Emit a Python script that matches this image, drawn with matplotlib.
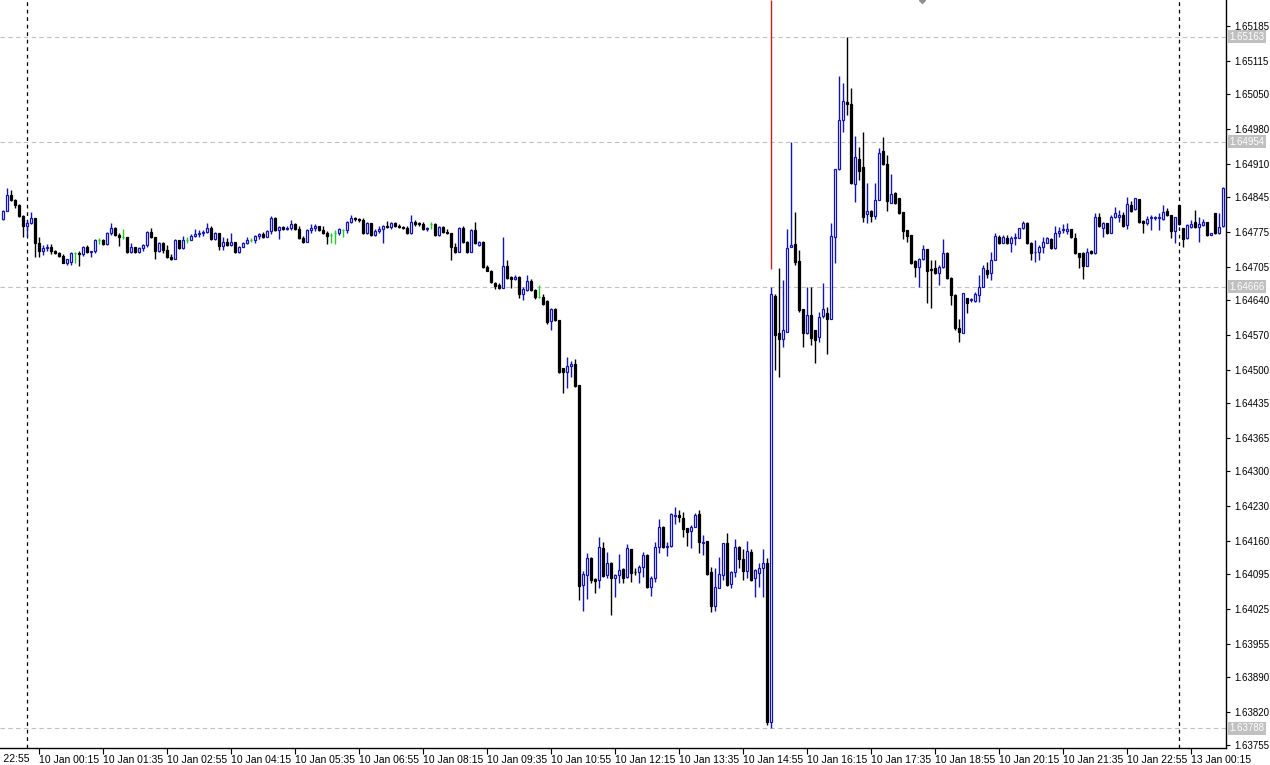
import matplotlib
matplotlib.use("Agg")
import matplotlib.pyplot as plt
import matplotlib.transforms as mtransforms

plt.rcParams['font.family'] = ['Liberation Sans', 'DejaVu Sans']

# 5 minute candles, bar 0 = 10 Jan 00:00, first bar = 9 Jan 23:30, bar 288 = 13 Jan 00:00
first_bar = -6

opens = [
    1.64801, 1.64817, 1.64848, 1.64838, 1.64828, 1.64807, 1.64787, 1.64793, 1.64803, 1.64753,
    1.64737, 1.64743, 1.64745, 1.64737, 1.64733, 1.64727, 1.64713, 1.64715, 1.64733, 1.64733,
    1.64731, 1.64745, 1.64735, 1.64737, 1.64759, 1.64759, 1.64751, 1.64773, 1.64783, 1.64769,
    1.64765, 1.64765, 1.64735, 1.64745, 1.64735, 1.64743, 1.64749, 1.64775, 1.64765, 1.64737,
    1.64753, 1.64739, 1.64725, 1.64721, 1.64759, 1.64743, 1.64759, 1.64759, 1.64767, 1.64771,
    1.64773, 1.64775, 1.64783, 1.64761, 1.64773, 1.64747, 1.64755, 1.64749, 1.64755, 1.64735,
    1.64745, 1.64753, 1.64759, 1.64759, 1.64767, 1.64771, 1.64765, 1.64777, 1.64803, 1.64779,
    1.64785, 1.64781, 1.64783, 1.64791, 1.64781, 1.64763, 1.64755, 1.64779, 1.64783, 1.64787,
    1.64779, 1.64773, 1.64769, 1.64773, 1.64773, 1.64779, 1.64779, 1.64795, 1.64803, 1.64801,
    1.64799, 1.64773, 1.64793, 1.64769, 1.64777, 1.64781, 1.64787, 1.64785, 1.64793, 1.64787,
    1.64785, 1.64783, 1.64773, 1.64795, 1.64793, 1.64791, 1.64781, 1.64791, 1.64791, 1.64769,
    1.64785, 1.64775, 1.64773, 1.64745, 1.64735, 1.64783, 1.64755, 1.64735, 1.64779, 1.64749,
    1.64755, 1.64705, 1.64697, 1.64673, 1.64669, 1.64663, 1.64707, 1.64685, 1.64681, 1.64685,
    1.64652, 1.64659, 1.64677, 1.64659, 1.64646, 1.64646, 1.64638, 1.64598, 1.64622, 1.64600,
    1.64504, 1.64496, 1.64508, 1.64512, 1.64471, 1.64073, 1.64093, 1.64127, 1.64085, 1.64083,
    1.64147, 1.64093, 1.64117, 1.64087, 1.64093, 1.64105, 1.64089, 1.64145, 1.64099, 1.64099,
    1.64109, 1.64133, 1.64069, 1.64087, 1.64149, 1.64188, 1.64149, 1.64151, 1.64210, 1.64212,
    1.64206, 1.64186, 1.64180, 1.64188, 1.64214, 1.64157, 1.64160, 1.64099, 1.64031, 1.64067,
    1.64093, 1.64157, 1.64075, 1.64099, 1.64149, 1.64125, 1.64101, 1.64139, 1.64087, 1.64097,
    1.64107, 1.64117, 1.63801, 1.64648, 1.64574, 1.64562, 1.64576, 1.64745, 1.64751, 1.64717,
    1.64622, 1.64574, 1.64610, 1.64580, 1.64566, 1.64608, 1.64614, 1.64602, 1.64765, 1.64900,
    1.64997, 1.65033, 1.65029, 1.64870, 1.64920, 1.64904, 1.64811, 1.64817, 1.64807, 1.64838,
    1.64936, 1.64910, 1.64832, 1.64852, 1.64842, 1.64815, 1.64779, 1.64769, 1.64717, 1.64705,
    1.64721, 1.64741, 1.64701, 1.64703, 1.64693, 1.64705, 1.64733, 1.64683, 1.64650, 1.64584,
    1.64574, 1.64644, 1.64640, 1.64638, 1.64650, 1.64665, 1.64699, 1.64693, 1.64719, 1.64765,
    1.64753, 1.64763, 1.64753, 1.64763, 1.64763, 1.64783, 1.64793, 1.64753, 1.64735, 1.64735,
    1.64745, 1.64753, 1.64761, 1.64743, 1.64773, 1.64779, 1.64777, 1.64781, 1.64763, 1.64733,
    1.64733, 1.64707, 1.64737, 1.64733, 1.64805, 1.64783, 1.64793, 1.64773, 1.64805, 1.64805,
    1.64809, 1.64789, 1.64828, 1.64821, 1.64840, 1.64797, 1.64793, 1.64803, 1.64803, 1.64803,
    1.64801, 1.64817, 1.64809, 1.64777, 1.64828, 1.64783, 1.64763, 1.64785, 1.64795, 1.64785,
    1.64789, 1.64795, 1.64769, 1.64813, 1.64773, 1.64787,
]

highs = [
    1.64819, 1.64862, 1.64858, 1.64840, 1.64830, 1.64809, 1.64799, 1.64815, 1.64803, 1.64765,
    1.64749, 1.64751, 1.64751, 1.64739, 1.64735, 1.64731, 1.64721, 1.64735, 1.64735, 1.64737,
    1.64747, 1.64749, 1.64737, 1.64761, 1.64763, 1.64761, 1.64775, 1.64793, 1.64785, 1.64773,
    1.64781, 1.64765, 1.64753, 1.64745, 1.64745, 1.64751, 1.64777, 1.64783, 1.64765, 1.64755,
    1.64755, 1.64749, 1.64731, 1.64761, 1.64759, 1.64767, 1.64765, 1.64771, 1.64781, 1.64779,
    1.64779, 1.64793, 1.64787, 1.64775, 1.64773, 1.64765, 1.64763, 1.64773, 1.64755, 1.64747,
    1.64755, 1.64765, 1.64763, 1.64769, 1.64773, 1.64775, 1.64779, 1.64807, 1.64805, 1.64787,
    1.64787, 1.64787, 1.64799, 1.64793, 1.64787, 1.64767, 1.64781, 1.64791, 1.64791, 1.64787,
    1.64787, 1.64777, 1.64773, 1.64779, 1.64783, 1.64781, 1.64797, 1.64809, 1.64805, 1.64803,
    1.64803, 1.64795, 1.64793, 1.64781, 1.64787, 1.64789, 1.64797, 1.64795, 1.64795, 1.64791,
    1.64787, 1.64787, 1.64809, 1.64799, 1.64795, 1.64795, 1.64785, 1.64795, 1.64793, 1.64787,
    1.64787, 1.64781, 1.64773, 1.64753, 1.64785, 1.64787, 1.64757, 1.64781, 1.64795, 1.64757,
    1.64757, 1.64709, 1.64699, 1.64675, 1.64673, 1.64765, 1.64719, 1.64687, 1.64689, 1.64687,
    1.64665, 1.64689, 1.64681, 1.64661, 1.64669, 1.64652, 1.64640, 1.64624, 1.64624, 1.64600,
    1.64504, 1.64526, 1.64518, 1.64522, 1.64471, 1.64101, 1.64137, 1.64129, 1.64087, 1.64168,
    1.64159, 1.64139, 1.64119, 1.64095, 1.64135, 1.64107, 1.64155, 1.64145, 1.64107, 1.64113,
    1.64139, 1.64135, 1.64091, 1.64159, 1.64204, 1.64190, 1.64159, 1.64216, 1.64228, 1.64222,
    1.64218, 1.64186, 1.64192, 1.64216, 1.64222, 1.64172, 1.64160, 1.64109, 1.64107, 1.64129,
    1.64157, 1.64176, 1.64101, 1.64164, 1.64151, 1.64145, 1.64160, 1.64145, 1.64105, 1.64117,
    1.64145, 1.64127, 1.64666, 1.64652, 1.64703, 1.64679, 1.64781, 1.64954, 1.64815, 1.64739,
    1.64622, 1.64665, 1.64665, 1.64580, 1.64616, 1.64673, 1.64626, 1.64793, 1.64900, 1.65085,
    1.65071, 1.65163, 1.65061, 1.64966, 1.64944, 1.64974, 1.64872, 1.64819, 1.64872, 1.64942,
    1.64964, 1.64928, 1.64890, 1.64854, 1.64842, 1.64815, 1.64779, 1.64769, 1.64719, 1.64723,
    1.64749, 1.64741, 1.64719, 1.64719, 1.64709, 1.64761, 1.64735, 1.64685, 1.64652, 1.64602,
    1.64654, 1.64644, 1.64644, 1.64656, 1.64689, 1.64709, 1.64715, 1.64735, 1.64773, 1.64769,
    1.64769, 1.64769, 1.64767, 1.64773, 1.64783, 1.64797, 1.64795, 1.64755, 1.64759, 1.64749,
    1.64765, 1.64765, 1.64763, 1.64787, 1.64785, 1.64791, 1.64793, 1.64781, 1.64773, 1.64733,
    1.64735, 1.64743, 1.64739, 1.64813, 1.64813, 1.64795, 1.64793, 1.64809, 1.64824, 1.64819,
    1.64815, 1.64844, 1.64836, 1.64842, 1.64840, 1.64799, 1.64807, 1.64809, 1.64807, 1.64813,
    1.64828, 1.64822, 1.64809, 1.64805, 1.64828, 1.64783, 1.64791, 1.64799, 1.64819, 1.64805,
    1.64801, 1.64795, 1.64773, 1.64813, 1.64813, 1.64864,
]

lows = [
    1.64799, 1.64817, 1.64836, 1.64822, 1.64805, 1.64765, 1.64767, 1.64791, 1.64725, 1.64725,
    1.64729, 1.64737, 1.64731, 1.64731, 1.64725, 1.64713, 1.64709, 1.64709, 1.64713, 1.64707,
    1.64727, 1.64733, 1.64725, 1.64733, 1.64751, 1.64749, 1.64749, 1.64769, 1.64767, 1.64747,
    1.64761, 1.64733, 1.64733, 1.64733, 1.64733, 1.64737, 1.64745, 1.64763, 1.64721, 1.64735,
    1.64733, 1.64723, 1.64719, 1.64721, 1.64741, 1.64741, 1.64753, 1.64759, 1.64765, 1.64765,
    1.64767, 1.64773, 1.64759, 1.64759, 1.64739, 1.64739, 1.64747, 1.64747, 1.64733, 1.64733,
    1.64745, 1.64751, 1.64755, 1.64753, 1.64761, 1.64763, 1.64765, 1.64771, 1.64777, 1.64761,
    1.64779, 1.64779, 1.64779, 1.64779, 1.64761, 1.64753, 1.64755, 1.64773, 1.64777, 1.64777,
    1.64771, 1.64751, 1.64753, 1.64751, 1.64769, 1.64765, 1.64773, 1.64793, 1.64797, 1.64795,
    1.64771, 1.64771, 1.64767, 1.64767, 1.64773, 1.64753, 1.64783, 1.64781, 1.64785, 1.64783,
    1.64781, 1.64771, 1.64771, 1.64787, 1.64787, 1.64779, 1.64777, 1.64781, 1.64767, 1.64767,
    1.64773, 1.64771, 1.64719, 1.64733, 1.64735, 1.64753, 1.64733, 1.64735, 1.64751, 1.64747,
    1.64703, 1.64697, 1.64673, 1.64661, 1.64661, 1.64663, 1.64681, 1.64663, 1.64679, 1.64644,
    1.64640, 1.64657, 1.64657, 1.64642, 1.64644, 1.64630, 1.64592, 1.64580, 1.64598, 1.64494,
    1.64455, 1.64465, 1.64487, 1.64467, 1.64043, 1.64021, 1.64045, 1.64077, 1.64057, 1.64067,
    1.64089, 1.64087, 1.64013, 1.64049, 1.64077, 1.64077, 1.64087, 1.64079, 1.64093, 1.64077,
    1.64089, 1.64067, 1.64051, 1.64079, 1.64137, 1.64147, 1.64131, 1.64149, 1.64194, 1.64198,
    1.64168, 1.64151, 1.64147, 1.64188, 1.64137, 1.64133, 1.64093, 1.64019, 1.64021, 1.64067,
    1.64083, 1.64071, 1.64067, 1.64089, 1.64107, 1.64083, 1.64087, 1.64081, 1.64049, 1.64069,
    1.64049, 1.63795, 1.63788, 1.64500, 1.64487, 1.64546, 1.64576, 1.64745, 1.64709, 1.64616,
    1.64546, 1.64572, 1.64550, 1.64514, 1.64556, 1.64604, 1.64532, 1.64602, 1.64713, 1.64898,
    1.64974, 1.65007, 1.64870, 1.64834, 1.64878, 1.64795, 1.64793, 1.64795, 1.64801, 1.64838,
    1.64908, 1.64817, 1.64832, 1.64830, 1.64811, 1.64761, 1.64755, 1.64711, 1.64685, 1.64665,
    1.64719, 1.64634, 1.64624, 1.64691, 1.64669, 1.64703, 1.64681, 1.64630, 1.64580, 1.64556,
    1.64574, 1.64614, 1.64636, 1.64636, 1.64636, 1.64665, 1.64683, 1.64679, 1.64719, 1.64751,
    1.64753, 1.64751, 1.64735, 1.64749, 1.64763, 1.64781, 1.64751, 1.64719, 1.64715, 1.64719,
    1.64733, 1.64753, 1.64741, 1.64741, 1.64765, 1.64773, 1.64771, 1.64763, 1.64731, 1.64703,
    1.64681, 1.64707, 1.64731, 1.64731, 1.64785, 1.64765, 1.64771, 1.64773, 1.64803, 1.64795,
    1.64785, 1.64781, 1.64815, 1.64819, 1.64793, 1.64773, 1.64789, 1.64779, 1.64799, 1.64779,
    1.64799, 1.64807, 1.64763, 1.64753, 1.64789, 1.64745, 1.64761, 1.64783, 1.64783, 1.64755,
    1.64787, 1.64767, 1.64769, 1.64771, 1.64771, 1.64785,
]

closes = [
    1.64817, 1.64848, 1.64838, 1.64828, 1.64807, 1.64787, 1.64793, 1.64803, 1.64753, 1.64737,
    1.64743, 1.64745, 1.64737, 1.64733, 1.64727, 1.64713, 1.64721, 1.64733, 1.64733, 1.64731,
    1.64745, 1.64735, 1.64737, 1.64759, 1.64759, 1.64751, 1.64773, 1.64783, 1.64769, 1.64765,
    1.64765, 1.64735, 1.64745, 1.64735, 1.64743, 1.64749, 1.64775, 1.64765, 1.64737, 1.64753,
    1.64739, 1.64725, 1.64721, 1.64759, 1.64743, 1.64759, 1.64759, 1.64767, 1.64771, 1.64773,
    1.64775, 1.64783, 1.64761, 1.64773, 1.64747, 1.64755, 1.64749, 1.64755, 1.64735, 1.64745,
    1.64753, 1.64759, 1.64759, 1.64767, 1.64771, 1.64765, 1.64777, 1.64803, 1.64779, 1.64785,
    1.64781, 1.64783, 1.64791, 1.64781, 1.64763, 1.64755, 1.64779, 1.64783, 1.64787, 1.64779,
    1.64773, 1.64767, 1.64769, 1.64773, 1.64781, 1.64779, 1.64795, 1.64803, 1.64801, 1.64799,
    1.64773, 1.64793, 1.64769, 1.64777, 1.64781, 1.64787, 1.64785, 1.64793, 1.64787, 1.64785,
    1.64783, 1.64773, 1.64795, 1.64791, 1.64791, 1.64781, 1.64783, 1.64791, 1.64769, 1.64785,
    1.64775, 1.64773, 1.64745, 1.64735, 1.64783, 1.64755, 1.64735, 1.64779, 1.64753, 1.64755,
    1.64705, 1.64697, 1.64675, 1.64667, 1.64663, 1.64707, 1.64683, 1.64681, 1.64685, 1.64652,
    1.64661, 1.64677, 1.64659, 1.64646, 1.64646, 1.64632, 1.64596, 1.64622, 1.64600, 1.64496,
    1.64496, 1.64508, 1.64512, 1.64469, 1.64071, 1.64095, 1.64127, 1.64083, 1.64081, 1.64149,
    1.64091, 1.64117, 1.64087, 1.64093, 1.64103, 1.64087, 1.64147, 1.64097, 1.64098, 1.64109,
    1.64133, 1.64069, 1.64087, 1.64149, 1.64188, 1.64149, 1.64151, 1.64214, 1.64212, 1.64208,
    1.64184, 1.64178, 1.64188, 1.64212, 1.64159, 1.64159, 1.64095, 1.64031, 1.64069, 1.64095,
    1.64157, 1.64073, 1.64099, 1.64149, 1.64125, 1.64101, 1.64141, 1.64083, 1.64103, 1.64107,
    1.64117, 1.63801, 1.64652, 1.64570, 1.64562, 1.64580, 1.64743, 1.64749, 1.64715, 1.64620,
    1.64574, 1.64610, 1.64564, 1.64560, 1.64606, 1.64622, 1.64602, 1.64767, 1.64900, 1.64997,
    1.65035, 1.65029, 1.64872, 1.64924, 1.64896, 1.64805, 1.64817, 1.64807, 1.64838, 1.64932,
    1.64910, 1.64836, 1.64850, 1.64832, 1.64813, 1.64777, 1.64767, 1.64713, 1.64705, 1.64721,
    1.64741, 1.64697, 1.64700, 1.64693, 1.64705, 1.64733, 1.64683, 1.64650, 1.64584, 1.64576,
    1.64654, 1.64634, 1.64641, 1.64652, 1.64665, 1.64703, 1.64691, 1.64719, 1.64767, 1.64753,
    1.64765, 1.64753, 1.64763, 1.64764, 1.64783, 1.64793, 1.64753, 1.64733, 1.64736, 1.64745,
    1.64755, 1.64763, 1.64743, 1.64773, 1.64777, 1.64780, 1.64781, 1.64765, 1.64733, 1.64725,
    1.64707, 1.64735, 1.64733, 1.64805, 1.64787, 1.64793, 1.64773, 1.64805, 1.64813, 1.64809,
    1.64787, 1.64830, 1.64817, 1.64842, 1.64795, 1.64793, 1.64801, 1.64804, 1.64804, 1.64804,
    1.64815, 1.64809, 1.64777, 1.64805, 1.64791, 1.64761, 1.64789, 1.64791, 1.64785, 1.64791,
    1.64795, 1.64769, 1.64773, 1.64773, 1.64785, 1.64862,
]

tick_bars = [3, 19, 35, 51, 67, 83, 99, 115, 131, 147, 163, 179, 195, 211, 227, 243, 259, 275, 291]
tick_labels = ['10 Jan 00:15', '10 Jan 01:35', '10 Jan 02:55', '10 Jan 04:15', '10 Jan 05:35',
               '10 Jan 06:55', '10 Jan 08:15', '10 Jan 09:35', '10 Jan 10:55', '10 Jan 12:15',
               '10 Jan 13:35', '10 Jan 14:55', '10 Jan 16:15', '10 Jan 17:35', '10 Jan 18:55',
               '10 Jan 20:15', '10 Jan 21:35', '10 Jan 22:55', '13 Jan 00:15']
prev_label_bar = -13
prev_label = '9 Jan 22:55'

price_ticks = [1.65185, 1.65115, 1.65050, 1.64980, 1.64910, 1.64845, 1.64775, 1.64705,
               1.64640, 1.64570, 1.64500, 1.64435, 1.64365, 1.64300, 1.64230, 1.64160,
               1.64095, 1.64025, 1.63955, 1.63890, 1.63820, 1.63755]
level_lines = [1.65163, 1.64954, 1.64666, 1.63788]
day_breaks = [0, 288]
red_line_bar = 186
red_line_low = 1.64701
marker_bar = 223.75

BLUE = '#1414b4'
GREEN = '#22cc22'
GREY = '#c0c0c0'

fig = plt.figure(figsize=(12.7, 7.65), dpi=100)
ax = fig.add_axes([0, 17 / 765, 1226 / 1270, 748 / 765])
ax.set_xlim(-6.75, 299.75)
ax.set_ylim(1.63749, 1.65236)

# grey level lines and day separators
for lv in level_lines:
    ax.axhline(lv, color=GREY, lw=0.8, ls=(0, (4, 3)), zorder=1)
for b in day_breaks:
    ax.axvline(b, color='black', lw=0.9, ls=(0, (3, 3)), zorder=1)
ax.vlines(red_line_bar, red_line_low, 1.65236, color='#c41e1e', lw=1.0, zorder=1)
ax.plot([marker_bar], [1.65236], marker='D', ms=3, color='#909090', clip_on=True, zorder=1)

w = 0.72
for i in range(len(closes)):
    x = first_bar + i
    o, h, l, c = opens[i], highs[i], lows[i], closes[i]
    if c > o:
        ax.vlines(x, l, h, color=BLUE, lw=1.0, zorder=2)
        ax.bar(x, c - o, bottom=o, width=w, facecolor='white', edgecolor=BLUE, lw=0.9, zorder=3)
    elif c < o:
        ax.vlines(x, l, h, color='black', lw=1.0, zorder=2)
        ax.bar(x, o - c, bottom=c, width=w, facecolor='black', edgecolor='black', lw=0.9, zorder=3)
    else:
        ax.vlines(x, l, h, color=GREEN, lw=1.0, zorder=2)
        ax.hlines(o, x - w / 2, x + w / 2, color=GREEN, lw=1.0, zorder=3)

for s in ['top', 'left']:
    ax.spines[s].set_visible(False)
ax.spines['right'].set_linewidth(1.0)
ax.spines['bottom'].set_linewidth(1.0)

ax.yaxis.tick_right()
ax.set_yticks(price_ticks, ['%.5f' % p for p in price_ticks])
ax.tick_params(axis='y', direction='out', length=3, width=0.8, labelsize=7, pad=3)

ax.set_xticks(tick_bars, tick_labels, ha='left')
ax.tick_params(axis='x', direction='out', length=4, width=0.8, labelsize=7.5, pad=1)
# label of the bar before the left edge, only its right part shows (as in the terminal)
ax.text(prev_label_bar, -0.008, prev_label, transform=mtransforms.blended_transform_factory(ax.transData, ax.transAxes),
        ha='left', va='top', fontsize=7.5, clip_on=False)

# highlighted price labels
trans = mtransforms.blended_transform_factory(ax.transAxes, ax.transData)
for lv in level_lines:
    ax.text(1.0025, lv, '%.5f' % lv, transform=trans, ha='left', va='center', fontsize=7,
            color='white', clip_on=False, zorder=5,
            bbox=dict(boxstyle='square,pad=0.15', facecolor=GREY, edgecolor='none'))

fig.savefig('out.png', dpi=100, facecolor='white')
